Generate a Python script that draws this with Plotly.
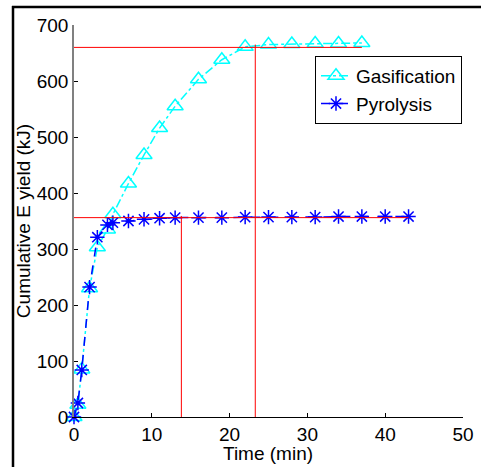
import plotly.graph_objects as go

# ---- data ----
gas_time = [0, 0.5, 1, 2, 3, 4.3, 5, 7, 9, 11, 13, 16, 19, 22, 25, 28, 31, 34, 37]
gas_yield = [0, 22, 85, 230, 303, 335, 362, 417, 468, 516, 555, 603, 638, 661, 665, 666, 667, 667, 668]

pyr_time = [0, 0.5, 1, 2, 3, 4.3, 5, 7, 9, 11, 13, 16, 19, 22, 25, 28, 31, 34, 37, 40, 43]
pyr_yield = [0, 25, 84, 232, 321, 343, 347, 350, 353, 355, 356, 356, 356, 357, 357, 357, 357, 358, 358, 358, 358]

# reference (guide) lines
gas_hline_x = [0, 37]
gas_hline_y = [660, 660]
gas_vline_x = [23.3, 23.3]
gas_vline_y = [0, 665]
pyr_hline_x = [0, 43]
pyr_hline_y = [356, 356]
pyr_vline_x = [13.8, 13.8]
pyr_vline_y = [0, 359]

x_ticks = [0, 10, 20, 30, 40, 50]
y_ticks = [0, 100, 200, 300, 400, 500, 600, 700]

FONT = "Liberation Sans, Arial, sans-serif"
FS = 19

fig = go.Figure()

fig.add_trace(go.Scatter(
    x=gas_time, y=gas_yield, name="Gasification", mode="lines+markers",
    line=dict(color="#00FFFF", width=1.5, dash="dashdot"),
    marker=dict(symbol="triangle-up-open", size=14, color="#00FFFF",
                line=dict(color="#00FFFF", width=1.5)),
    cliponaxis=False,
))
fig.add_trace(go.Scatter(
    x=pyr_time, y=pyr_yield, name="Pyrolysis", mode="lines+markers",
    line=dict(color="#0000FF", width=1.5, dash="dash"),
    marker=dict(symbol="asterisk-open", size=12, color="#0000FF",
                line=dict(color="#0000FF", width=1.5)),
    cliponaxis=False,
))

for gx, gy in [(gas_hline_x, gas_hline_y), (gas_vline_x, gas_vline_y),
               (pyr_hline_x, pyr_hline_y), (pyr_vline_x, pyr_vline_y)]:
    fig.add_trace(go.Scatter(x=gx, y=gy, mode="lines", showlegend=False,
                             line=dict(color="#FF0000", width=1), hoverinfo="skip"))

L, R, T, B = 74, 18, 25, 50
W, H = 481, 467
PW, PH = W - L - R, H - T - B


def px(xp):
    return (xp - L) / PW


def py(yp):
    return (H - B - yp) / PH


def pline(x0, y0, x1, y1, width=1.0):
    return dict(type="line", xref="paper", yref="paper", layer="above",
                x0=px(x0), x1=px(x1), y0=py(y0), y1=py(y1),
                line=dict(color="black", width=width))


fig.update_layout(
    width=W, height=H,
    margin=dict(l=L, r=R, t=T, b=B, autoexpand=False),
    paper_bgcolor="white", plot_bgcolor="white",
    font=dict(family=FONT, size=FS, color="black"),
    showlegend=True,
    legend=dict(x=px(315), y=py(56), xanchor="left", yanchor="top",
                bgcolor="white", bordercolor="black", borderwidth=1,
                font=dict(family=FONT, size=FS, color="black"),
                tracegroupgap=0),
    xaxis=dict(range=[0, 50], tickvals=x_ticks, ticks="inside", ticklen=4,
               tickcolor="black", showline=True, linecolor="black", linewidth=1,
               showgrid=False, zeroline=False, mirror=False, automargin=False,
               tickfont=dict(size=FS)),
    yaxis=dict(range=[0, 700], tickvals=y_ticks, ticks="inside", ticklen=4,
               tickcolor="black", showline=True, linecolor="#808080", linewidth=1.5,
               showgrid=False, zeroline=False, mirror=False, automargin=False,
               title=dict(text="Cumulative E yield (kJ)", standoff=1, font=dict(size=FS)),
               tickfont=dict(size=FS)),
    annotations=[
        dict(text="Time (min)", xref="paper", yref="paper", x=px(268), y=py(453),
             xanchor="center", yanchor="middle", showarrow=False,
             font=dict(family=FONT, size=FS, color="black")),
    ],
    shapes=[
        # figure frame (left and top edges)
        pline(13, 6, 13, 470, 2.5),
        pline(12, 7, 485, 7, 2.5),
    ],
)

fig.write_html(
    "out.html",
    config={"displayModeBar": False},
    post_script="document.body.style.margin='0';document.body.style.padding='0';"
                "document.documentElement.style.overflow='hidden';",
)
